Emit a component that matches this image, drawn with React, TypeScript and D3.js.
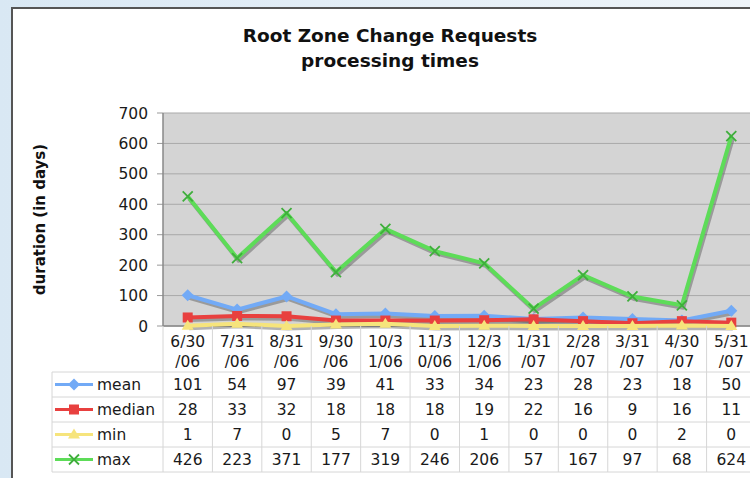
import React from 'react';
import * as d3 from 'd3';

const categories = ['6/30/06', '7/31/06', '8/31/06', '9/30/06', '10/31/06', '11/30/06', '12/31/06', '1/31/07', '2/28/07', '3/31/07', '4/30/07', '5/31/07'];
const meanValues = [101, 54, 97, 39, 41, 33, 34, 23, 28, 23, 18, 50];
const medianValues = [28, 33, 32, 18, 18, 18, 19, 22, 16, 9, 16, 11];
const minValues = [1, 7, 0, 5, 7, 0, 1, 0, 0, 0, 2, 0];
const maxValues = [426, 223, 371, 177, 319, 246, 206, 57, 167, 97, 68, 624];
const yTicks = [0, 100, 200, 300, 400, 500, 600, 700];

const series = [
  { name: 'mean', values: meanValues, color: '#72aaf6', marker: 'diamond' },
  { name: 'median', values: medianValues, color: '#e8403f', marker: 'square' },
  { name: 'min', values: minValues, color: '#f6e47c', marker: 'triangle' },
  { name: 'max', values: maxValues, color: '#5ddc58', marker: 'cross' },
];

const font = '"DejaVu Sans", Verdana, sans-serif';
const W = 750;
const H = 478;
const plot = { left: 163, right: 756, top: 113, bottom: 326 };
const table = { left: 52, headerBottom: 372, rowH: 25 };

const Marker: React.FC<{ kind: string; x: number; y: number; color: string }> = ({ kind, x, y, color }) => {
  if (kind === 'diamond') {
    return <path d={`M${x},${y - 6}L${x + 6},${y}L${x},${y + 6}L${x - 6},${y}Z`} fill={color} />;
  }
  if (kind === 'square') {
    return <rect x={x - 5} y={y - 5} width={10} height={10} fill={color} />;
  }
  if (kind === 'triangle') {
    return <path d={`M${x},${y - 6}L${x + 6},${y + 4}L${x - 6},${y + 4}Z`} fill={color} />;
  }
  return (
    <path
      d={`M${x - 5},${y - 5}L${x + 5},${y + 5}M${x + 5},${y - 5}L${x - 5},${y + 5}`}
      stroke="#3fae3c"
      strokeWidth={1.8}
    />
  );
};

const splitLabel = (s: string) => [s.slice(0, 4), s.slice(4)];

const App: React.FC = () => {
  const x = d3.scaleBand<string>().domain(categories).range([plot.left, plot.right]);
  const y = d3.scaleLinear().domain([0, 700]).range([plot.bottom, plot.top]);
  const cx = (c: string) => (x(c) as number) + x.bandwidth() / 2;

  const line = d3
    .line<number>()
    .x((_, i) => cx(categories[i]))
    .y((d) => y(d));

  const tableBottom = table.headerBottom + table.rowH * series.length;

  return (
    <svg width={W} height={H} style={{ position: 'absolute', left: 0, top: 0, display: 'block' }}>
      <defs>
        <linearGradient id="bg" x1="0" x2="1" y1="0" y2="0">
          <stop offset="0" stopColor="#d9e8f4" />
          <stop offset="1" stopColor="#eef4f9" />
        </linearGradient>
      </defs>
      <rect x={0} y={0} width={W} height={H} fill="url(#bg)" />
      <rect x={12} y={8} width={W} height={H} fill="#ffffff" stroke="#555" strokeWidth={2} />

      {/* title */}
      <text x={390} y={42} textAnchor="middle" fontFamily={font} fontWeight="bold" fontSize={18.5} fill="#111">
        Root Zone Change Requests
      </text>
      <text x={390} y={67} textAnchor="middle" fontFamily={font} fontWeight="bold" fontSize={18.5} fill="#111">
        processing times
      </text>

      {/* plot area */}
      <rect x={plot.left} y={plot.top} width={plot.right - plot.left} height={plot.bottom - plot.top} fill="#d4d4d4" />
      {yTicks.map((t) => (
        <g key={t}>
          <line x1={plot.left} x2={plot.right} y1={y(t)} y2={y(t)} stroke="#a9a9a9" strokeWidth={1} />
          <line x1={plot.left - 6} x2={plot.left} y1={y(t)} y2={y(t)} stroke="#999" strokeWidth={1} />
          <text x={148} y={y(t) + 5.5} textAnchor="end" fontFamily={font} fontSize={15.5} fill="#1a1a1a">
            {t}
          </text>
        </g>
      ))}
      <line x1={plot.left} x2={plot.left} y1={plot.top} y2={plot.bottom} stroke="#888" strokeWidth={1.5} />
      <line x1={plot.left} x2={plot.right} y1={plot.bottom} y2={plot.bottom} stroke="#888" strokeWidth={1.5} />

      <text
        transform={`translate(45,${(plot.top + plot.bottom) / 2}) rotate(-90)`}
        textAnchor="middle"
        fontFamily={font}
        fontWeight="bold"
        fontSize={15}
        fill="#111"
      >
        duration (in days)
      </text>

      {/* series shadows */}
      {series.map((s) => (
        <path
          key={`sh-${s.name}`}
          d={line(s.values) as string}
          transform="translate(1.5,2.5)"
          fill="none"
          stroke="#555"
          strokeOpacity={0.45}
          strokeWidth={4}
          strokeLinejoin="round"
        />
      ))}
      {series.map((s) => (
        <g key={s.name}>
          <path d={line(s.values) as string} fill="none" stroke={s.color} strokeWidth={4} strokeLinejoin="round" />
          {s.values.map((v, i) => (
            <Marker key={i} kind={s.marker} x={cx(categories[i])} y={y(v)} color={s.color} />
          ))}
        </g>
      ))}

      {/* data table */}
      {categories.map((c) => (
        <line
          key={`v-${c}`}
          x1={(x(c) as number) + x.bandwidth()}
          x2={(x(c) as number) + x.bandwidth()}
          y1={plot.bottom}
          y2={tableBottom}
          stroke="#d6d6d6"
        />
      ))}
      <line x1={plot.left} x2={plot.left} y1={plot.bottom} y2={tableBottom} stroke="#d6d6d6" />
      <line x1={table.left} x2={table.left} y1={table.headerBottom} y2={tableBottom} stroke="#d6d6d6" />
      {d3.range(series.length + 1).map((r) => (
        <line
          key={`h-${r}`}
          x1={table.left}
          x2={plot.right}
          y1={table.headerBottom + r * table.rowH}
          y2={table.headerBottom + r * table.rowH}
          stroke="#d6d6d6"
        />
      ))}
      {categories.map((c) => {
        const [a, b] = splitLabel(c);
        return (
          <g key={`lab-${c}`}>
            <text x={cx(c)} y={347} textAnchor="middle" fontFamily={font} fontSize={15.5} fill="#1a1a1a">
              {a}
            </text>
            <text x={cx(c)} y={367} textAnchor="middle" fontFamily={font} fontSize={15.5} fill="#1a1a1a">
              {b}
            </text>
          </g>
        );
      })}
      {series.map((s, r) => {
        const ry = table.headerBottom + r * table.rowH + table.rowH / 2;
        return (
          <g key={`row-${s.name}`}>
            <line x1={55} x2={93} y1={ry} y2={ry} stroke={s.color} strokeWidth={3} />
            <Marker kind={s.marker} x={74} y={ry} color={s.color} />
            <text x={97} y={ry + 5.5} fontFamily={font} fontSize={15.5} fill="#1a1a1a">
              {s.name}
            </text>
            {s.values.map((v, i) => (
              <text
                key={i}
                x={cx(categories[i])}
                y={ry + 5.5}
                textAnchor="middle"
                fontFamily={font}
                fontSize={15.5}
                fill="#1a1a1a"
              >
                {v}
              </text>
            ))}
          </g>
        );
      })}
    </svg>
  );
};

export default App;
